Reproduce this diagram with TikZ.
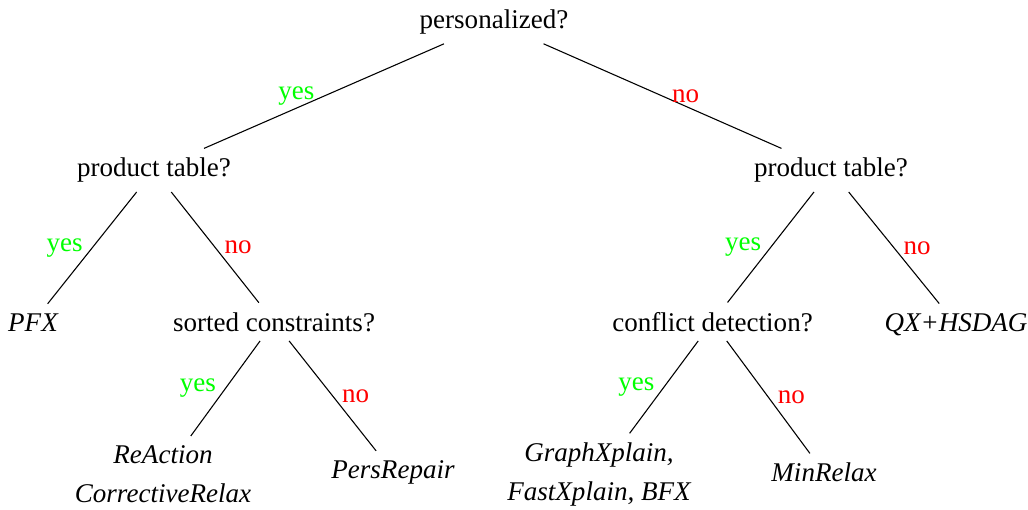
\documentclass[tikz,border=0pt]{standalone}
\usepackage{fontspec}
\setmainfont{Liberation Serif}
\usepackage{tikz}

\begin{document}
\begin{tikzpicture}[x=0.013cm, y=-0.013cm,
						% Styles for the questions, the answers and the branch labels
						question/.style={anchor=base},
						method/.style={anchor=base, font=\itshape},
						methods/.style={anchor=north, font=\itshape, align=center},
						yes label/.style={midway, left, text=green},
						no label/.style={midway, right, text=red}
						]
						\useasboundingbox (0,0) rectangle (1028,509);
						
						% Questions
						\node[question] (pers) at (494, 28.5) {personalized?};
						\node[question] (tableA) at (154, 176.7) {product table?};
						\node[question] (tableB) at (831, 176.7) {product table?};
						\node[question] (sorted) at (274, 331) {sorted constraints?};
						\node[question] (conflict) at (712.5, 331) {conflict detection?};
						
						% Answers
						\node[method] (pfx) at (33, 331) {PFX};
						\node[method] (qx) at (956, 331) {QX+HSDAG};
						\node[methods] (reaction) at (163, 436) {ReAction\\[2.4pt]CorrectiveRelax};
						\node[method] (persrepair) at (393, 478.3) {PersRepair};
						\node[methods] (graphx) at (599, 433.3) {GraphXplain,\\[2.4pt]FastXplain, BFX};
						\node[method] (minrelax) at (824, 481.7) {MinRelax};
						
						% --- Draw the edges ---
						\draw (pers) -- (tableA) node[yes label] {yes};
						\draw (pers) -- (tableB) node[no label] {no};
						\draw (tableA) -- (pfx) node[yes label] {yes};
						\draw (tableA) -- (sorted) node[no label] {no};
						\draw (sorted) -- (reaction) node[yes label] {yes};
						\draw (sorted) -- (persrepair) node[no label] {no};
						\draw (tableB) -- (conflict) node[yes label] {yes};
						\draw (tableB) -- (qx) node[no label] {no};
						\draw (conflict) -- (graphx) node[yes label] {yes};
						\draw (conflict) -- (minrelax) node[no label] {no};
					\end{tikzpicture}
\end{document}
